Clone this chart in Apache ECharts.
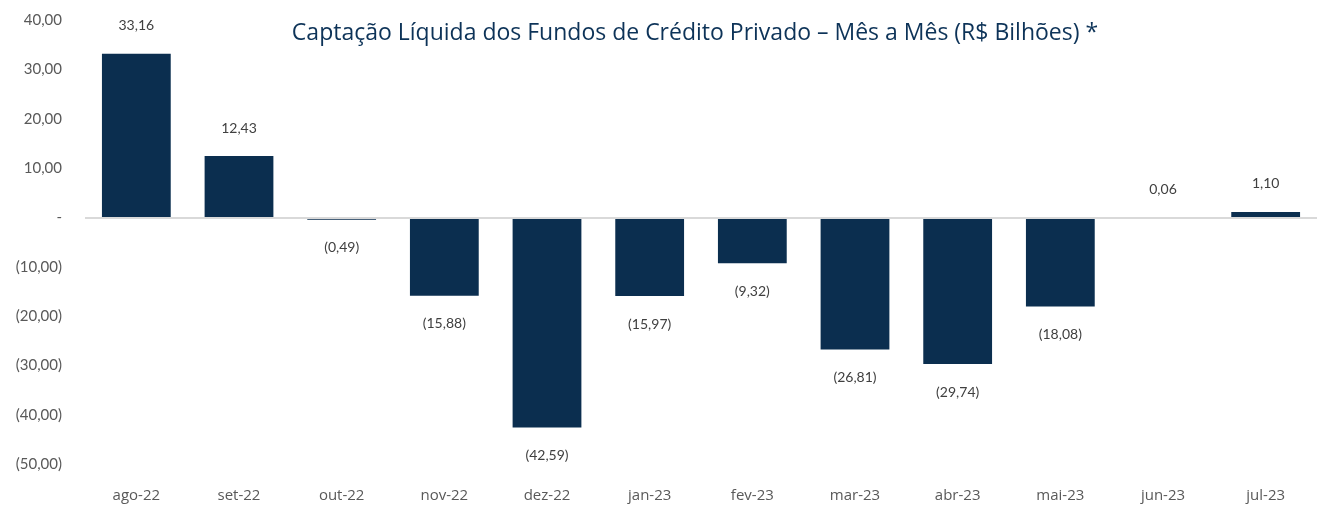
<!DOCTYPE html>
<html>
<head>
<meta charset="utf-8">
<script src="https://cdn.jsdelivr.net/npm/echarts@6/dist/echarts.min.js"></script>
<style>
  html, body { margin: 0; padding: 0; background: #fff; }
  #chart { width: 1317px; height: 505px; }
</style>
</head>
<body>
<div id="chart"></div>
<script>
const categories = ["ago-22", "set-22", "out-22", "nov-22", "dez-22", "jan-23", "fev-23", "mar-23", "abr-23", "mai-23", "jun-23", "jul-23"];
const netFlow = [33.16, 12.43, -0.49, -15.88, -42.59, -15.97, -9.32, -26.81, -29.74, -18.08, 0.06, 1.10];
const yTicks = { min: -50, max: 40, step: 10 };

const navy = "#0b2e4f";
const grey = "#595959";

function br(v, digits) {
  const s = Math.abs(v).toFixed(digits).replace(".", ",");
  return v < 0 ? `(${s})` : s;
}

const chart = echarts.init(document.getElementById("chart"), null, { renderer: "canvas" });

chart.setOption({
  animation: false,
  title: {
    text: "Captação Líquida dos Fundos de Crédito Privado – Mês a Mês (R$ Bilhões) *",
    left: 690,
    textAlign: "center",
    top: 17,
    textStyle: { color: "#0d3358", fontSize: 23, fontWeight: "normal", fontFamily: "Open Sans" }
  },
  grid: { left: 85, right: 0, top: 20, bottom: 41 },
  xAxis: {
    type: "category",
    data: categories,
    axisLine: { show: false, onZero: false },
    axisTick: { show: false },
    axisLabel: { color: grey, fontSize: 15, margin: 24, fontFamily: "Open Sans" }
  },
  yAxis: {
    type: "value",
    min: yTicks.min,
    max: yTicks.max,
    interval: yTicks.step,
    splitLine: { show: false },
    axisLine: { show: false },
    axisTick: { show: false },
    axisLabel: {
      color: grey,
      fontSize: 15,
      margin: 23,
      fontFamily: "Lato",
      formatter: (v) => (v === 0 ? "-" : br(v, 2))
    }
  },
  series: [
    {
      type: "bar",
      data: netFlow.map((v) => ({
        value: v,
        label: { position: v < 0 ? "bottom" : "top" }
      })),
      barWidth: "67%",
      itemStyle: { color: navy },
      label: {
        show: true,
        color: "#404040",
        fontSize: 14,
        fontFamily: "Lato",
        distance: 21,
        formatter: (p) => br(p.value, 2)
      },
      markLine: {
        silent: true,
        symbol: "none",
        label: { show: false },
        lineStyle: { color: "#d9d9d9", width: 2, type: "solid" },
        data: [{ yAxis: 0 }]
      }
    }
  ]
});
</script>
</body>
</html>
